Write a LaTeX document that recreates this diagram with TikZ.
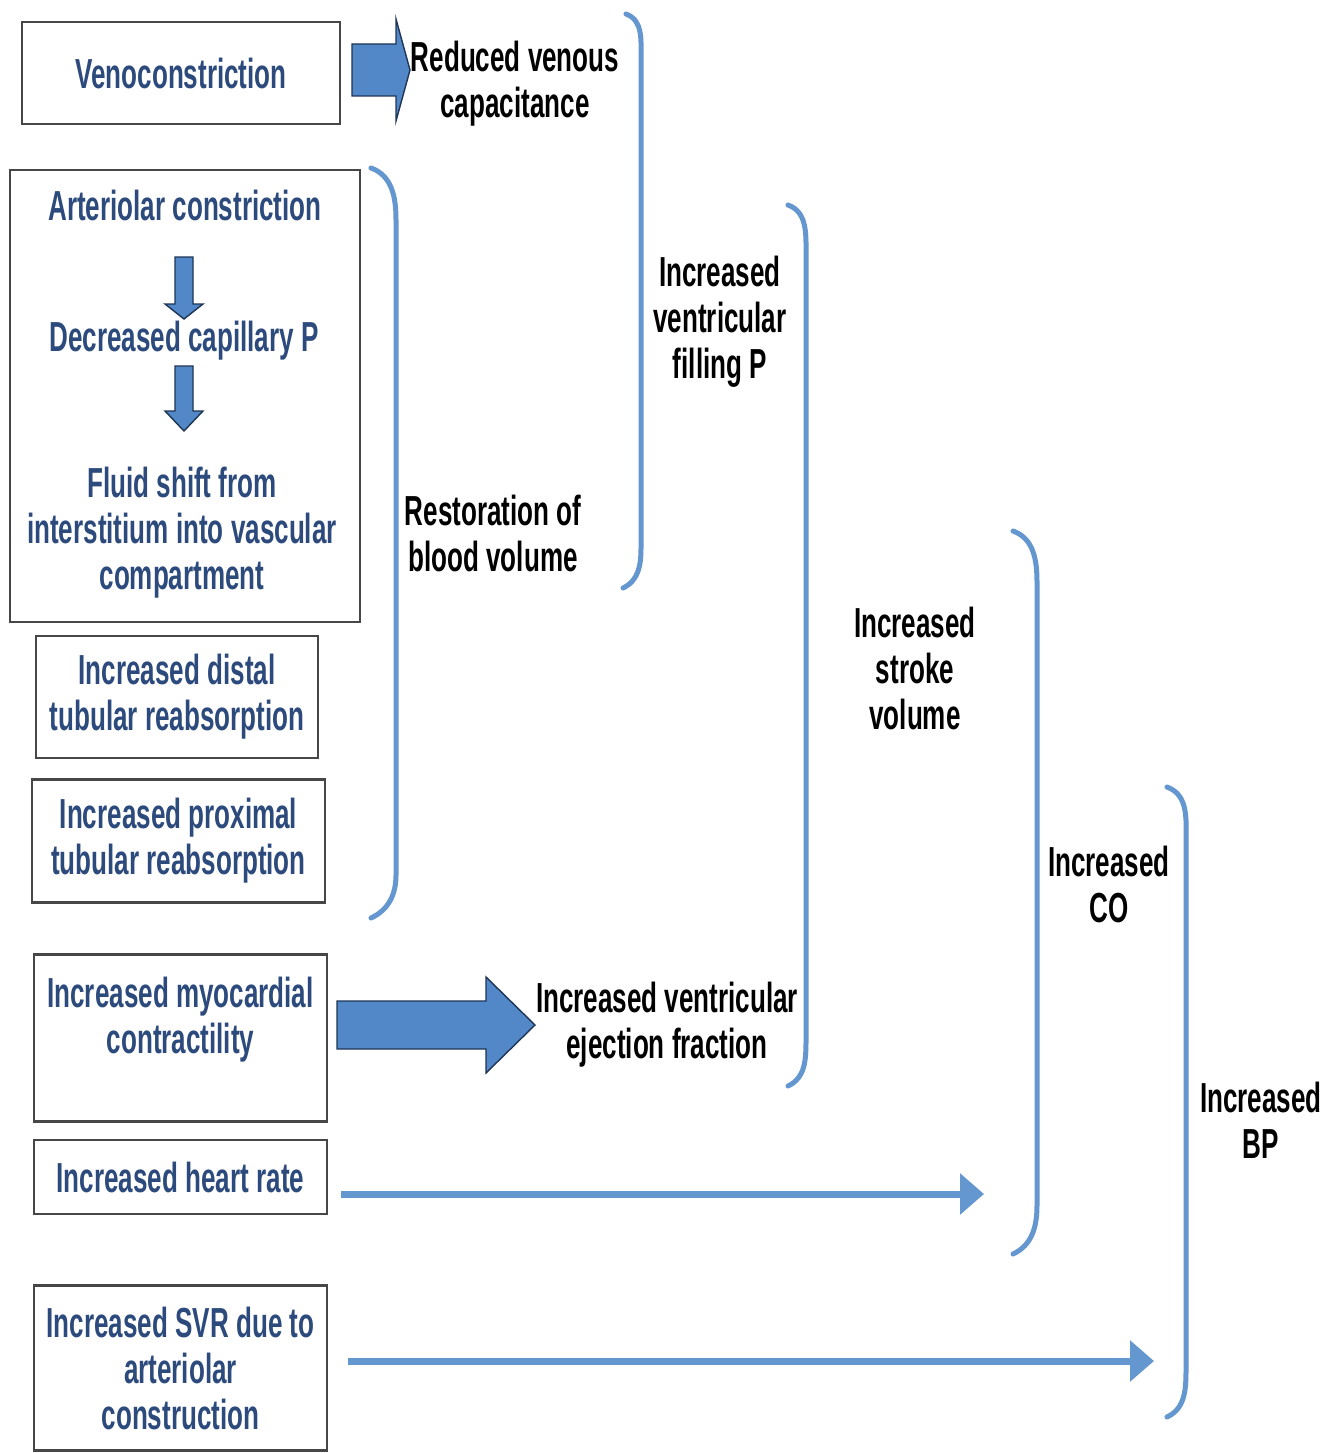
\documentclass[tikz,border=0pt]{standalone}
\usepackage{fontspec}
\newfontfamily\cf[FakeStretch=0.62]{Liberation Sans}
\usetikzlibrary{arrows.meta,calc}
\definecolor{boxtext}{HTML}{2C4A7C}
\definecolor{lblue}{HTML}{6496CF}
\definecolor{afill}{HTML}{5288C8}
\definecolor{aline}{HTML}{1E3555}
\newcommand\downarr[4]{% x, ytop, yhead, ytip
  \filldraw[blk] (#1-9,#2) -- (#1+9,#2) -- (#1+9,#3) -- (#1+19,#3) -- (#1,#4) -- (#1-19,#3) -- (#1-9,#3) -- cycle;}
\newcommand\rightarr[6]{% x0, xhead, xtip, yc, shafthalf, headhalf
  \filldraw[blk] (#1,#4-#5) -- (#2,#4-#5) -- (#2,#4-#6) -- (#3,#4) -- (#2,#4+#6) -- (#2,#4+#5) -- (#1,#4+#5) -- cycle;}
\begin{document}
\begin{tikzpicture}[x=1pt,y=-1pt,
  txt/.style={inner sep=0pt, align=center, font=\cf\bfseries\fontsize{42}{46}\selectfont},
  box/.style={txt, draw=black!72, line width=2.6pt, text=boxtext},
  btxt/.style={txt, text=boxtext},
  lbl/.style={txt, text=black},
  brk/.style={draw=lblue, line width=5pt, line cap=round},
  blk/.style={fill=afill, draw=aline, line width=1.4pt, line join=miter},
  conn/.style={draw=lblue, line width=7pt, -{Triangle[length=24pt,width=40pt]}}]
\fill[white] (0,0) rectangle (1338,1453);
\useasboundingbox (0,0) rectangle (1338,1453);

% left boxes
\node[box, minimum width=318pt, minimum height=102pt] (veno) at (181,73) {Venoconstriction};
\node[box, minimum width=350pt, minimum height=452pt] (art) at (185,396) {};
\node[btxt] (ac) at (185,205) {Arteriolar constriction};
\node[btxt] (dcp) at (184,341) {Decreased capillary P};
\node[btxt] (fs) at (182,533) {Fluid shift from\\interstitium into vascular\\compartment};
\node[box, minimum width=282pt, minimum height=122pt] (dist) at (177,697) {Increased distal\\tubular reabsorption};
\node[box, minimum width=293pt, minimum height=123pt] (prox) at (178.5,841) {Increased proximal\\tubular reabsorption};
\node[box, minimum width=293pt, minimum height=167pt] (myo) at (180.5,1038) {Increased myocardial\\contractility\\\mbox{}};
\node[box, minimum width=293pt, minimum height=74pt] (hr) at (180.5,1177) {Increased heart rate};
\node[box, minimum width=293pt, minimum height=165pt] (svr) at (180.5,1368) {Increased SVR due to\\arteriolar\\construction};

% right-hand labels
\node[lbl] (rvc) at (515,84) {Reduced venous\\capacitance};
\node[lbl] (rbv) at (493,533) {Restoration of\\blood volume};
\node[lbl] (ivf) at (720,322) {Increased\\ventricular\\filling P};
\node[lbl] (ief) at (667,1025) {Increased ventricular\\ejection fraction};
\node[lbl] (isv) at (915,668) {Increased\\stroke\\volume};
\node[lbl] (ico) at (1109,884) {Increased\\CO};
\node[lbl] (ibp) at (1261,1120) {Increased\\BP};

% block arrows
\rightarr{352}{396}{410}{70}{26}{51}
\rightarr{337}{486}{535}{1025}{24}{48}
\downarr{184}{257}{304}{319}
\downarr{184}{366}{411}{431}

% brackets
\draw[brk] (626,14) to[out=-20,in=90] (641,58) -- (641,548) to[out=-90,in=25] (623,588);
\draw[brk] (371,168) to[out=-20,in=90] (396,220) -- (396,875) to[out=-90,in=25] (371,918);
\draw[brk] (788,205) to[out=-20,in=90] (806,255) -- (806,1040) to[out=-90,in=25] (788,1086);
\draw[brk] (1013,531) to[out=-20,in=90] (1037,582) -- (1037,1205) to[out=-90,in=25] (1013,1254);
\draw[brk] (1167,787) to[out=-20,in=90] (1186,845) -- (1186,1365) to[out=-90,in=25] (1167,1417);

% line arrows
\coordinate (hrend) at (984,1194);
\coordinate (svrend) at (1154,1361);
\draw[conn] ($(hr.east |- hrend)+(13,0)$) -- (hrend);
\draw[conn] ($(svr.east |- svrend)+(20,0)$) -- (svrend);
\end{tikzpicture}
\end{document}
